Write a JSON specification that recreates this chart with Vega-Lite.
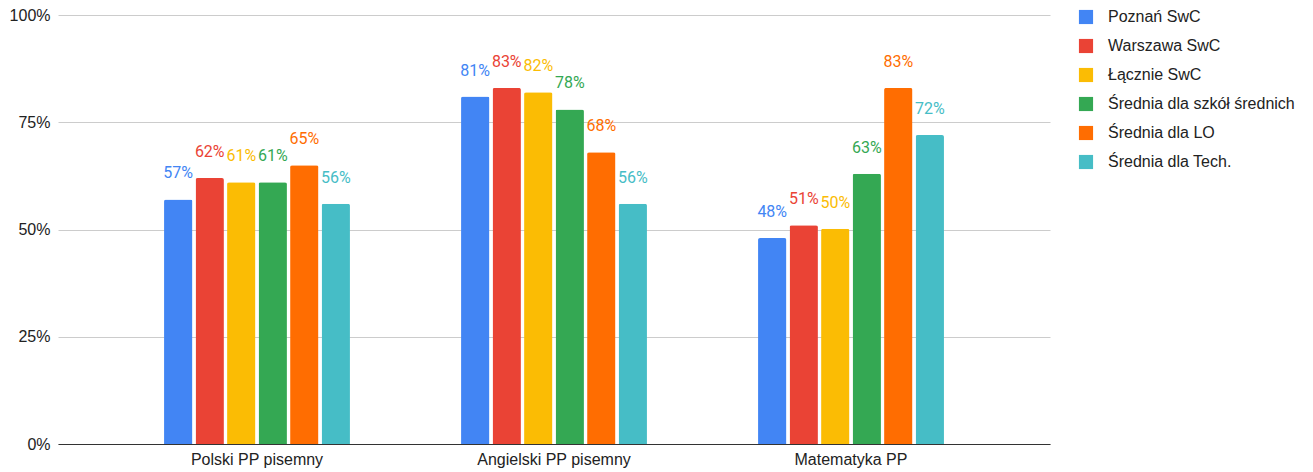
{
  "$schema": "https://vega.github.io/schema/vega-lite/v6.json",
  "width": 992,
  "height": 429,
  "autosize": {"type": "none"},
  "padding": {"left": 58, "top": 15, "right": 263, "bottom": 28},
  "background": "white",
  "config": {"view": {"stroke": null}, "font": "Liberation Sans"},
  "data": {
    "values": [
      {"subject": "Polski PP pisemny", "series": "Poznań SwC", "value": 0.57},
      {"subject": "Polski PP pisemny", "series": "Warszawa SwC", "value": 0.62},
      {"subject": "Polski PP pisemny", "series": "Łącznie SwC", "value": 0.61},
      {"subject": "Polski PP pisemny", "series": "Średnia dla szkół średnich", "value": 0.61},
      {"subject": "Polski PP pisemny", "series": "Średnia dla LO", "value": 0.65},
      {"subject": "Polski PP pisemny", "series": "Średnia dla Tech.", "value": 0.56},
      {"subject": "Angielski PP pisemny", "series": "Poznań SwC", "value": 0.81},
      {"subject": "Angielski PP pisemny", "series": "Warszawa SwC", "value": 0.83},
      {"subject": "Angielski PP pisemny", "series": "Łącznie SwC", "value": 0.82},
      {"subject": "Angielski PP pisemny", "series": "Średnia dla szkół średnich", "value": 0.78},
      {"subject": "Angielski PP pisemny", "series": "Średnia dla LO", "value": 0.68},
      {"subject": "Angielski PP pisemny", "series": "Średnia dla Tech.", "value": 0.56},
      {"subject": "Matematyka PP", "series": "Poznań SwC", "value": 0.48},
      {"subject": "Matematyka PP", "series": "Warszawa SwC", "value": 0.51},
      {"subject": "Matematyka PP", "series": "Łącznie SwC", "value": 0.502},
      {"subject": "Matematyka PP", "series": "Średnia dla szkół średnich", "value": 0.63},
      {"subject": "Matematyka PP", "series": "Średnia dla LO", "value": 0.83},
      {"subject": "Matematyka PP", "series": "Średnia dla Tech.", "value": 0.72}
    ]
  },
  "encoding": {
    "x": {
      "field": "subject", "type": "nominal", "sort": null, "title": null,
      "scale": {"paddingInner": 0.374, "paddingOuter": 0.357},
      "axis": {"labelAngle": 0, "labelFontSize": 16, "labelColor": "#222222", "labelPadding": 7, "ticks": false, "domainColor": "#333333", "domainWidth": 1, "labelFont": "Liberation Sans"}
    },
    "xOffset": {
      "field": "series", "type": "nominal", "sort": null,
      "scale": {"paddingInner": 0.1, "paddingOuter": 0}
    },
    "y": {
      "field": "value", "type": "quantitative", "title": null,
      "scale": {"domain": [0, 1], "nice": false},
      "axis": {"values": [0, 0.25, 0.5, 0.75, 1], "format": ".0%", "labelFontSize": 16, "labelColor": "#222222", "labelPadding": 8, "ticks": false, "domain": false, "gridColor": "#cccccc", "labelFont": "Liberation Sans"}
    },
    "color": {
      "field": "series", "type": "nominal", "sort": null, "title": null,
      "scale": {
        "domain": ["Poznań SwC", "Warszawa SwC", "Łącznie SwC", "Średnia dla szkół średnich", "Średnia dla LO", "Średnia dla Tech."],
        "range": ["#4285F4", "#EA4335", "#FBBC04", "#34A853", "#FF6D01", "#46BDC6"]
      },
      "legend": {
        "orient": "none", "legendX": 1020, "legendY": -6,
        "symbolType": "square", "symbolSize": 200, "symbolStrokeWidth": 0,
        "labelFontSize": 16, "labelColor": "#222222", "labelFont": "Liberation Sans",
        "labelLimit": 400, "rowPadding": 13, "labelOffset": 14
      }
    }
  },
  "layer": [
    {"mark": {"type": "bar", "cornerRadiusTopLeft": 2, "cornerRadiusTopRight": 2}},
    {
      "mark": {"type": "text", "baseline": "bottom", "dy": -18, "fontSize": 16, "font": "Roboto"},
      "encoding": {"text": {"field": "value", "type": "quantitative", "format": ".0%"}}
    }
  ]
}
